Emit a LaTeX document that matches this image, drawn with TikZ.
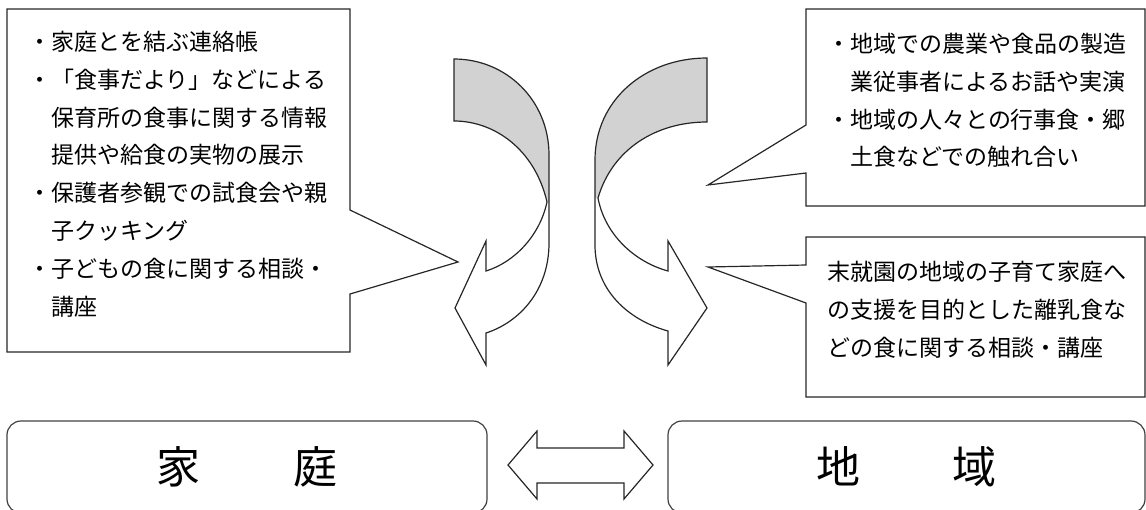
\documentclass[tikz,border=0pt]{standalone}
\usepackage{fontspec}
\setmainfont{Noto Sans CJK JP}
\usepackage{xcolor}
\usepackage{tikz}

\tikzset{
  callout/.style={draw=black!85, line width=1.2pt},
  memo/.style={anchor=north west, inner sep=0pt, align=left,
    font=\fontsize{23pt}{37.8pt}\selectfont},
  place/.style={draw=black!75, line width=1.2pt, rounded corners=14pt,
    minimum height=92pt, font=\fontsize{44pt}{50pt}\selectfont},
  turnline/.style={draw=black!85, line width=1.2pt},
  back/.style={fill=gray!35},
}

\begin{document}
\begin{tikzpicture}[x=1pt, y=-1pt]
  \useasboundingbox (0,0) rectangle (1146,509);
  % speech boxes
  \draw[callout] (7,9) -- (350,9) -- (350,210) -- (458,262) -- (350,294) -- (350,352) -- (7,352) -- cycle;
  \draw[callout] (806,9) -- (1145,9) -- (1145,206) -- (806,206) -- (806,173) -- (708,185) -- (806,125) -- cycle;
  \draw[callout] (806,237) -- (1145,237) -- (1145,397) -- (806,397) -- (806,303) -- (708,267) -- (806,265) -- cycle;
  \node[memo] (homenote) at (28,31) {・家庭とを結ぶ連絡帳\\
    ・「食事だより」などによる\\
    \hspace*{1em}保育所の食事に関する情報\\
    \hspace*{1em}提供や給食の実物の展示\\
    ・保護者参観での試食会や親\\
    \hspace*{1em}子クッキング\\
    ・子どもの食に関する相談・\\
    \hspace*{1em}講座};
  \node[memo] (farmnote) at (827,33) {・地域での農業や食品の製造\\
    \hspace*{1em}業従事者によるお話や実演\\
    ・地域の人々との行事食・郷\\
    \hspace*{1em}土食などでの触れ合い};
  \node[memo] (supportnote) at (827,261) {末就園の地域の子育て家庭へ\\
    の支援を目的とした離乳食な\\
    どの食に関する相談・講座};
  % curved arrows
  \fill[back] (454,59) .. controls (506,59) and (549,100) .. (549,155) -- (549,202) -- (547,202)
    .. controls (535,150) and (495,121) .. (454,121) -- cycle;
  \draw[turnline] (454,59) .. controls (506,59) and (549,100) .. (549,155) -- (549,243)
    .. controls (549,290) and (520,322) .. (486,333) -- (486,365) -- (455,308) -- (486,241) -- (486,271)
    .. controls (515,262) and (540,235) .. (547,202) .. controls (535,150) and (495,121) .. (454,121) -- cycle;
  \fill[back] (707,58) .. controls (645,58) and (595,100) .. (595,160) -- (595,198) -- (598,198)
    .. controls (612,150) and (655,122) .. (707,122) -- cycle;
  \draw[turnline] (707,58) .. controls (645,58) and (595,100) .. (595,160) -- (595,245)
    .. controls (595,290) and (628,320) .. (668,331) -- (668,365) -- (707,308) -- (668,241) -- (668,271)
    .. controls (635,262) and (605,235) .. (598,198) .. controls (612,150) and (655,122) .. (707,122) -- cycle;
  % bottom
  \node[place, minimum width=480pt] (home) at (247,467) {家\hspace{93pt}庭};
  \node[place, minimum width=477pt] (area) at (906.5,467) {地\hspace{93pt}域};
  \draw[turnline] (508,465) -- (537,431) -- (537,448) -- (624,448) -- (624,431) -- (653,465)
    -- (624,499) -- (624,483) -- (537,483) -- (537,499) -- cycle;
\end{tikzpicture}
\end{document}
